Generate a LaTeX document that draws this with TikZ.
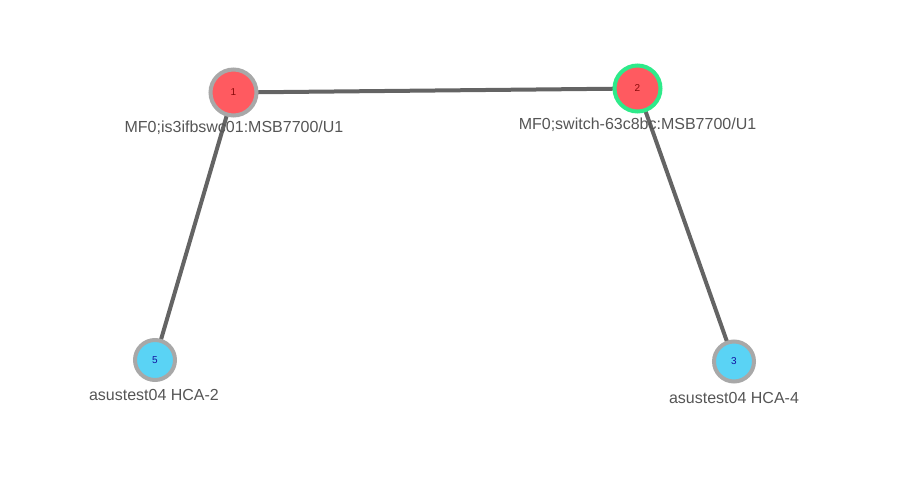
\documentclass[tikz,border=0pt]{standalone}
\usepackage{fontspec}
\setmainfont{Liberation Sans}
\usetikzlibrary{backgrounds}
\definecolor{nodered}{HTML}{FF5A60}
\definecolor{nodeblue}{HTML}{5AD3F5}
\definecolor{ringgray}{HTML}{A8A8A8}
\definecolor{ringgreen}{HTML}{2EEA8A}
\definecolor{edgegray}{HTML}{646464}
\definecolor{labelgray}{HTML}{555555}
\definecolor{numred}{HTML}{8B0A0A}
\definecolor{numblue}{HTML}{1010A0}
\tikzset{
  switchnode/.style={circle,fill=nodered,draw=ringgray,line width=4bp,minimum size=46bp,inner sep=0pt,
    text=numred,font=\fontsize{10bp}{12bp}\selectfont},
  hostnode/.style={circle,fill=nodeblue,draw=ringgray,line width=4bp,minimum size=40bp,inner sep=0pt,
    text=numblue,font=\fontsize{10bp}{12bp}\selectfont},
  selected/.style={draw=ringgreen},
  link/.style={draw=edgegray,line width=4bp},
  namelabel/.style={anchor=base,inner sep=0pt,text=labelgray,font=\fontsize{16bp}{19bp}\selectfont}
}
\begin{document}
\begin{tikzpicture}[x=1bp,y=-1bp]
\useasboundingbox (0,0) rectangle (907,485);
\node[switchnode] (n1) at (233.5,92.5) {1};
\node[switchnode,selected] (n2) at (637.5,88.5) {2};
\node[hostnode] (n5) at (155,360) {5};
\node[hostnode] (n3) at (734,361.5) {3};
\begin{scope}[on background layer]
\draw[link] (n1.center) -- (n2.center);
\draw[link] (n1.center) -- (n5.center);
\draw[link] (n2.center) -- (n3.center);
\end{scope}
\node[namelabel] (l1) at (234,133) {MF0;is3ifbswc01:MSB7700/U1};
\node[namelabel] (l2) at (637.5,130) {MF0;switch-63c8bc:MSB7700/U1};
\node[namelabel] (l5) at (154,400.5) {asustest04 HCA-2};
\node[namelabel] (l3) at (734,403) {asustest04 HCA-4};
\end{tikzpicture}
\end{document}
